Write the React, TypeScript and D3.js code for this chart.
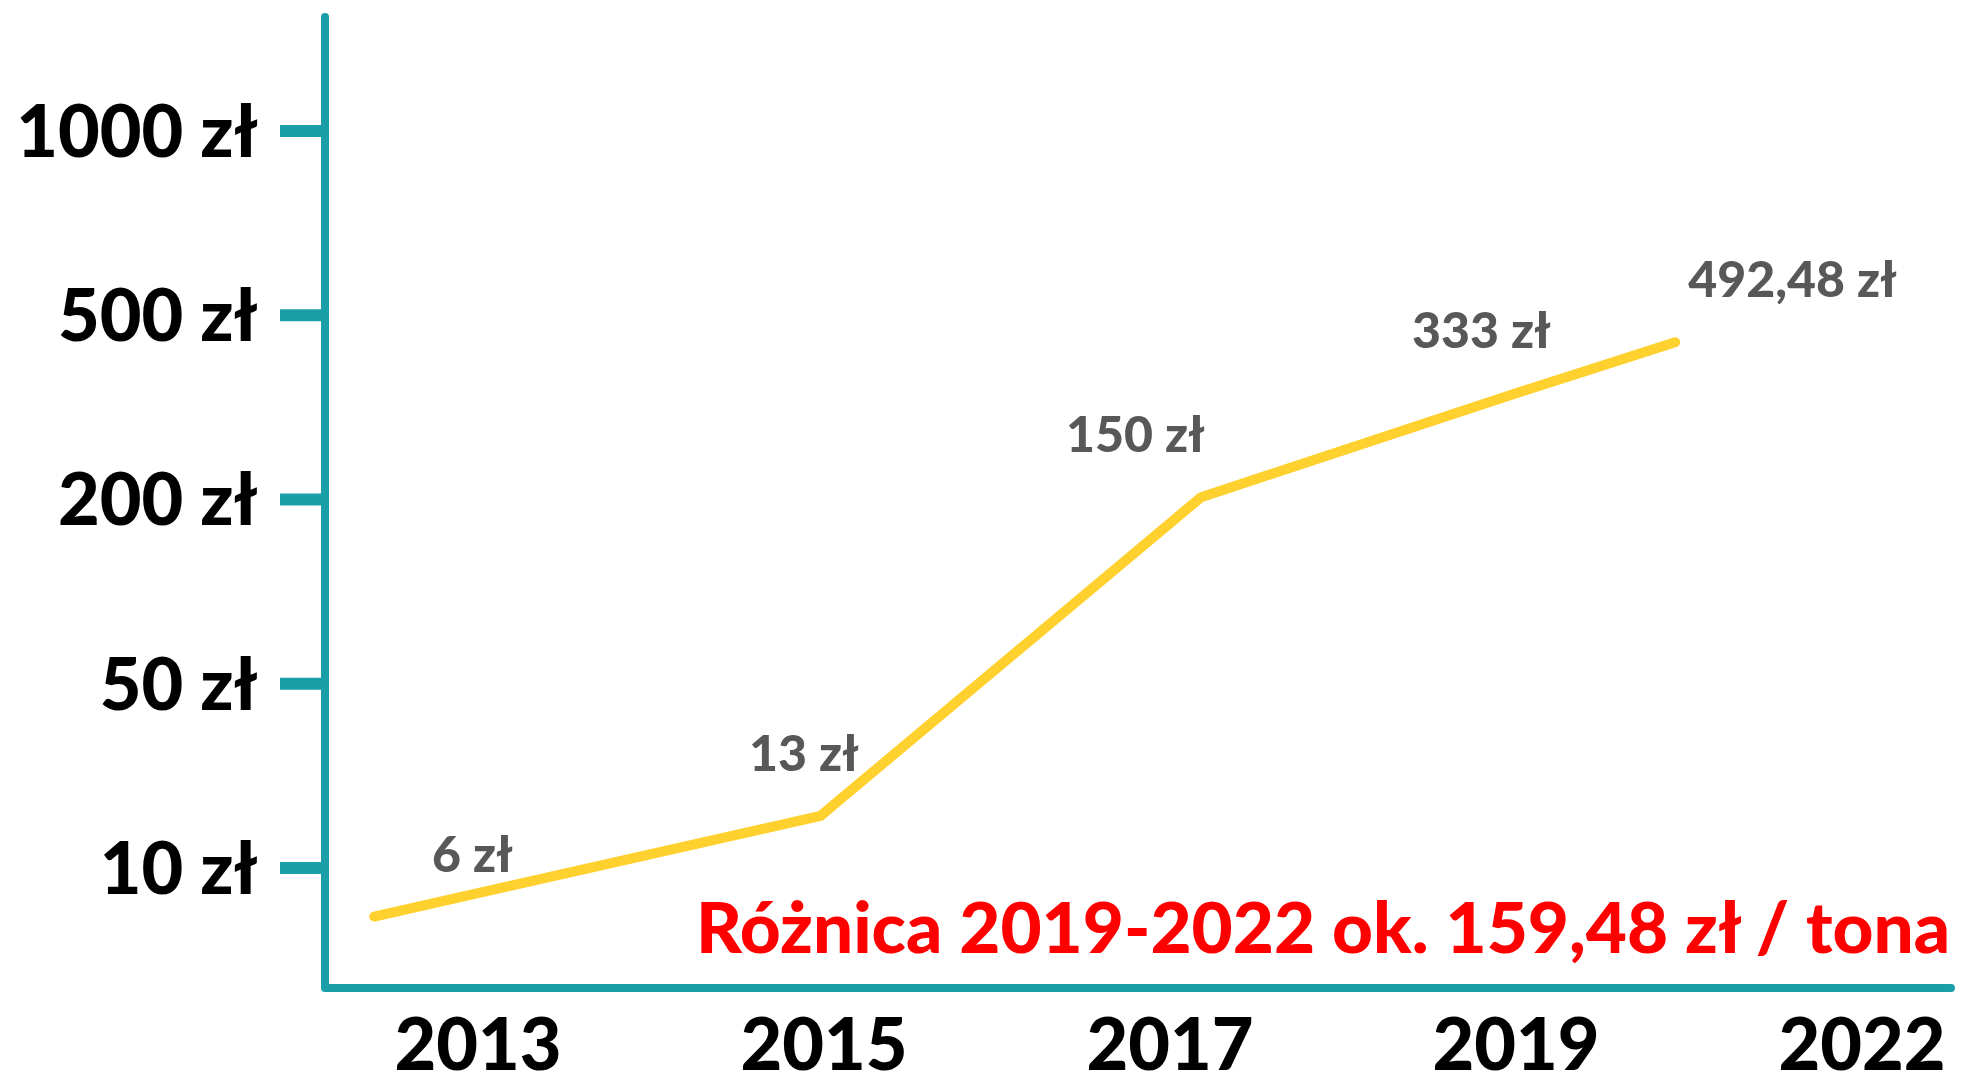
import React from "react";
import * as d3 from "d3";

// ---- data ----
const years = ["2013", "2015", "2017", "2019", "2022"];
const prices = [6, 13, 150, 333, 492.48];
const priceLabels = ["6 zł", "13 zł", "150 zł", "333 zł", "492,48 zł"];
// where each point of the line sits along the year axis, in year-label steps (as drawn)
const pointAxisPos = [-0.3, 0.99, 2.09, 3.0, 3.46];
const yTickValues = [10, 50, 200, 500, 1000];
const yTickLabels = ["10 zł", "50 zł", "200 zł", "500 zł", "1000 zł"];
const note = "Różnica 2019-2022 ok. 159,48 zł / tona";

const W = 1963;
const H = 1084;
const FONT = "Lato, 'Open Sans', sans-serif";
const TEAL = "#1a9fa9";
const YELLOW = "#ffd12e";
const GREY = "#585858";
const RED = "#ff0000";

export default function App() {
  const axisX = 325;
  const axisBottom = 988;
  const axisTop = 17;
  const axisRight = 1951;

  const xCat = d3.scalePoint<string>().domain(years).range([478, 1862]);
  const xPos = d3.scaleLinear().domain([0, years.length - 1]).range([478, 1862]);
  const yTick = d3.scalePoint<number>().domain(yTickValues).range([868, 131]);
  const yLine = d3.scaleLog().domain([1, 1000]).range([1150, 250]);

  const pts: [number, number][] = prices.map((v, i) => [xPos(pointAxisPos[i]), yLine(v)]);
  const line = d3.line<[number, number]>().x((d) => d[0]).y((d) => d[1])(pts) || "";

  return (
    <svg
      width={W}
      height={H}
      viewBox={`0 0 ${W} ${H}`}
      style={{ position: "absolute", left: 0, top: 0, background: "#fff" }}
    >
      {/* axes */}
      <path
        d={`M${axisX},${axisTop}V${axisBottom}H${axisRight}`}
        fill="none"
        stroke={TEAL}
        strokeWidth={8}
        strokeLinecap="round"
        strokeLinejoin="round"
      />
      {yTickValues.map((v, i) => (
        <g key={v}>
          <line x1={280} x2={axisX} y1={yTick(v)} y2={yTick(v)} stroke={TEAL} strokeWidth={12} />
          <text
            x={258}
            y={yTick(v)}
            dy="0.36em"
            textAnchor="end"
            fontFamily={FONT}
            fontWeight={900}
            fontSize={72}
            fill="#000"
          >
            {yTickLabels[i]}
          </text>
        </g>
      ))}
      {years.map((y) => (
        <text
          key={y}
          x={xCat(y)}
          y={1070}
          textAnchor="middle"
          fontFamily={FONT}
          fontWeight={900}
          fontSize={72}
          fill="#000"
        >
          {y}
        </text>
      ))}

      {/* line */}
      <path d={line} fill="none" stroke={YELLOW} strokeWidth={10} strokeLinecap="round" strokeLinejoin="round" />

      {/* value labels */}
      {prices.map((v, i) => (
        <text
          key={i}
          x={xPos(i) + 35}
          y={yLine(v) - 45}
          textAnchor="end"
          fontFamily={FONT}
          fontWeight={900}
          fontSize={50}
          fill={GREY}
        >
          {priceLabels[i]}
        </text>
      ))}

      {/* note */}
      <text x={696} y={953} fontFamily={FONT} fontWeight={900} fontSize={71} fill={RED}>
        {note}
      </text>
    </svg>
  );
}
